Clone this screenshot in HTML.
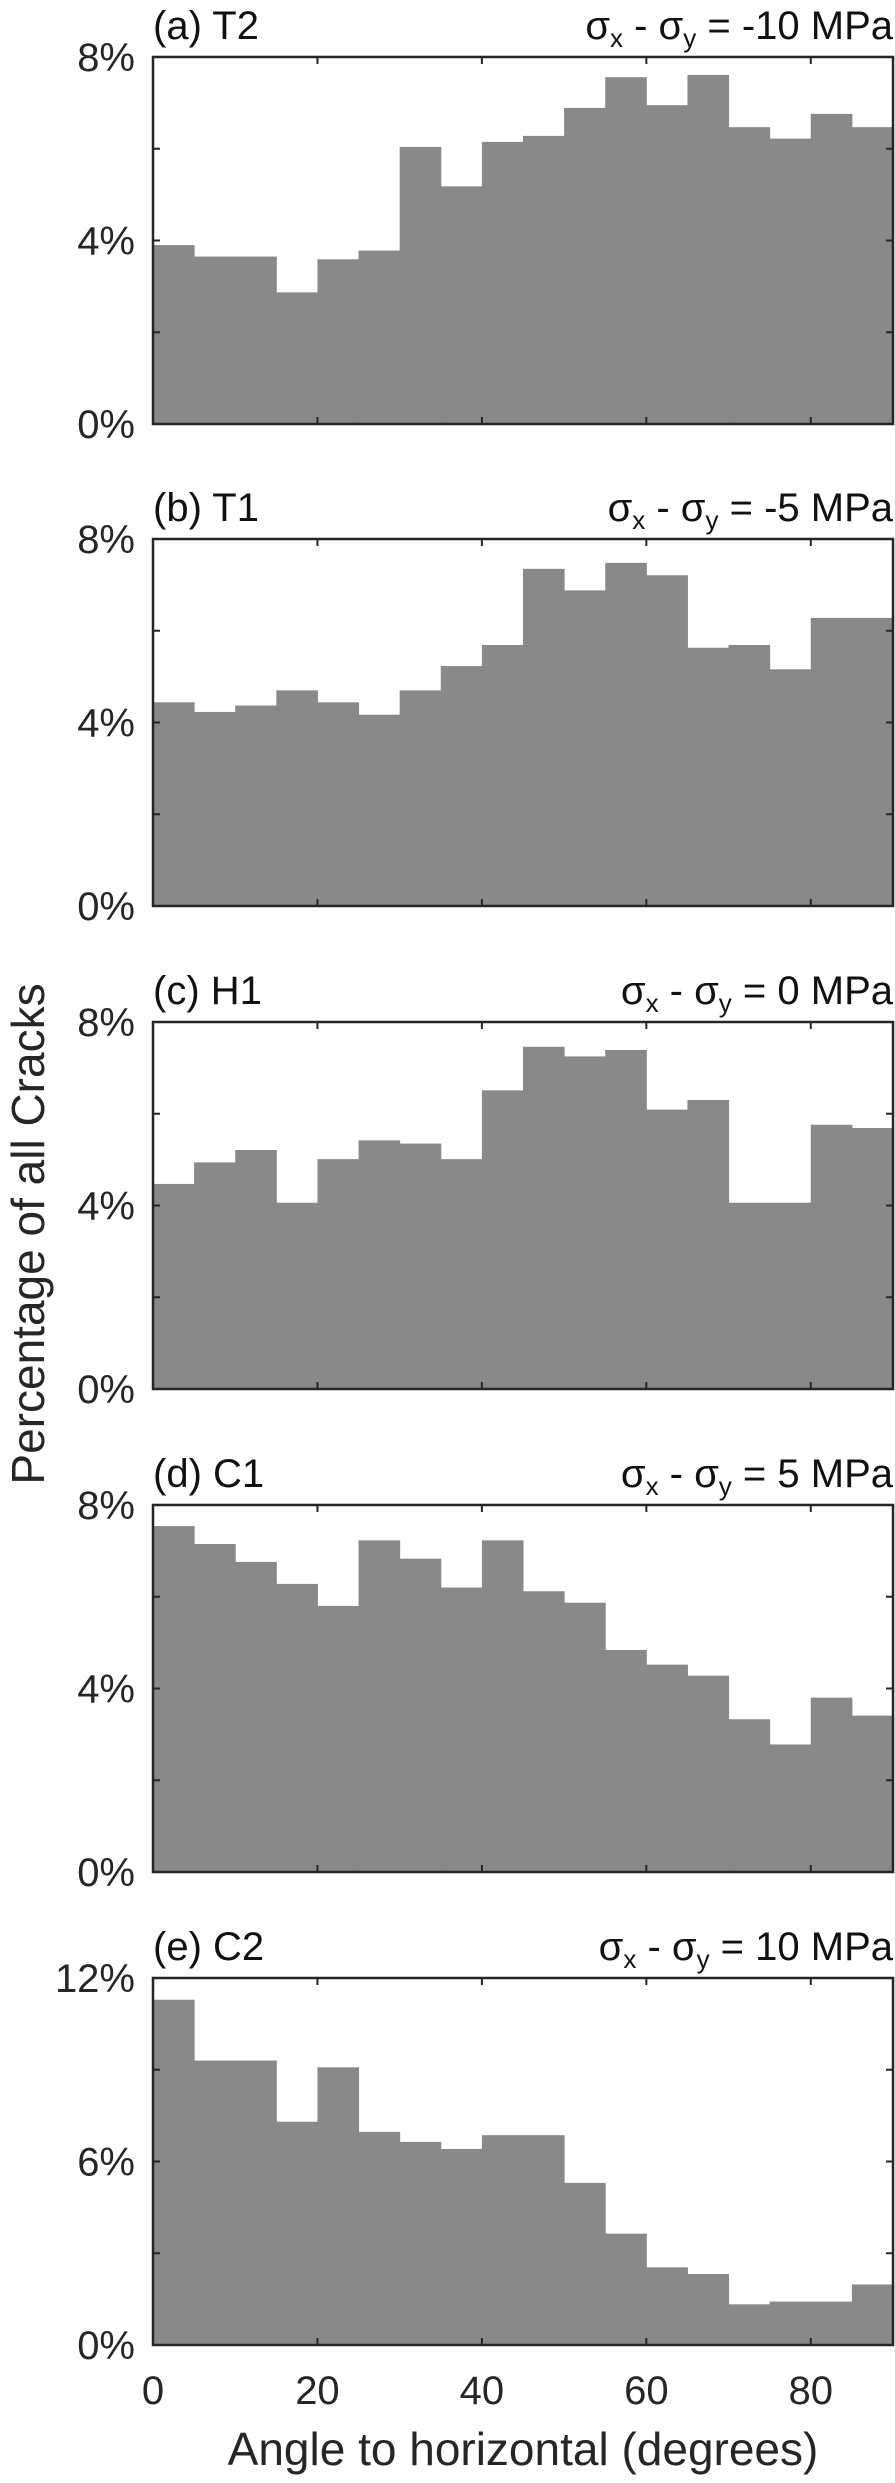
<!DOCTYPE html>
<html><head><meta charset="utf-8"><style>
html,body{margin:0;padding:0;background:#fff;}
svg{display:block;font-family:"Liberation Sans",Arial,sans-serif;}
</style></head><body>
<svg id="chart" width="895" height="2483" viewBox="0 0 895 2483" xmlns="http://www.w3.org/2000/svg">
<text x="0" y="0" transform="translate(44,1234) rotate(-90)" text-anchor="middle" font-size="46" fill="#262626">Percentage of all Cracks</text>
<text x="523" y="2465" text-anchor="middle" font-size="46" fill="#262626">Angle to horizontal (degrees)</text>
</svg>
<script>
const binEdges = [0,5,10,15,20,25,30,35,40,45,50,55,60,65,70,75,80,85,90];
const xTicks = [0,20,40,60,80];
const panelLabels = ["(a) T2","(b) T1","(c) H1","(d) C1","(e) C2"];
const stressValues = ["-10","-5","0","5","10"];
const yMaxes = [8,8,8,8,12];
const yTickSteps = [2,2,2,2,3];
const yLabelSteps = [4,4,4,4,6];
const seriesA = [3.90,3.65,3.65,2.87,3.59,3.78,6.04,5.18,6.15,6.28,6.89,7.56,6.95,7.61,6.47,6.22,6.76,6.47];
const seriesB = [4.44,4.23,4.37,4.70,4.44,4.17,4.70,5.23,5.69,7.35,6.88,7.48,7.21,5.63,5.69,5.16,6.28,6.28];
const seriesC = [4.47,4.94,5.21,4.06,5.01,5.42,5.35,5.01,6.51,7.46,7.25,7.39,6.09,6.30,4.06,4.06,5.76,5.69];
const seriesD = [7.54,7.15,6.76,6.28,5.80,7.23,6.83,6.20,7.23,6.12,5.87,4.84,4.52,4.28,3.33,2.78,3.80,3.41];
const seriesE = [11.29,9.30,9.30,7.30,9.08,6.97,6.64,6.41,6.86,6.86,5.30,3.64,2.54,2.32,1.33,1.42,1.42,1.98];
const allSeries = [seriesA,seriesB,seriesC,seriesD,seriesE];

const NS = "http://www.w3.org/2000/svg";
const svg = document.getElementById("chart");
const left = 153, right = 893, plotH = 367;
const tops = [57, 539, 1022, 1505, 1978];
function mk(tag, attrs){const e=document.createElementNS(NS,tag);for(const k in attrs)e.setAttribute(k,attrs[k]);return e;}
const xScale = v => left + (v/90)*(right-left);

allSeries.forEach((series, p) => {
  const top = tops[p], bottom = top + plotH, ymax = yMaxes[p];
  const yScale = v => bottom - (v/ymax)*plotH;
  const g = mk("g", {});
  
  
  svg.appendChild(g);
  series.forEach((v, i) => {
    const x0 = xScale(binEdges[i]), x1 = xScale(binEdges[i+1]), y = yScale(v);
    const r = mk("rect", {x:x0, y:y, width:x1-x0+0.5, height:bottom-y, fill:"#898989"});
    
    
    g.appendChild(r);
  });
  xTicks.forEach(t => {
    if (t === 0) return;
    const x = xScale(t);
    g.appendChild(mk("line",{x1:x,x2:x,y1:bottom,y2:bottom-7,stroke:"#262626","stroke-width":2}));
    g.appendChild(mk("line",{x1:x,x2:x,y1:top,y2:top+7,stroke:"#262626","stroke-width":2}));
  });
  for (let v = yTickSteps[p]; v < ymax; v += yTickSteps[p]) {
    const y = yScale(v);
    g.appendChild(mk("line",{x1:left,x2:left+7,y1:y,y2:y,stroke:"#262626","stroke-width":2}));
    g.appendChild(mk("line",{x1:right,x2:right-7,y1:y,y2:y,stroke:"#262626","stroke-width":2}));
  }
  for (let v = 0; v <= ymax; v += yLabelSteps[p]) {
    const t = mk("text",{x:135,y:yScale(v)+14,"text-anchor":"end","font-size":40,fill:"#262626"});
    
    
    t.textContent = v + "%";
    g.appendChild(t);
  }
  const frame = mk("rect",{x:left,y:top,width:right-left,height:plotH,fill:"none",stroke:"#262626","stroke-width":2.5});
  
  
  g.appendChild(frame);
  const title = mk("text",{x:left,y:top-18,"font-size":40,fill:"#111"});
  
  
  title.textContent = panelLabels[p];
  g.appendChild(title);
  const st = mk("text",{x:right,y:top-18,"text-anchor":"end","font-size":40,fill:"#111"});
  
  
  st.innerHTML = 'σ<tspan font-size="26" dy="8">x</tspan><tspan dy="-8"> - σ</tspan><tspan font-size="26" dy="8">y</tspan><tspan dy="-8"> = ' + stressValues[p] + ' MPa</tspan>';
  g.appendChild(st);
  if (p === 4) {
    xTicks.forEach(t => {
      const tl = mk("text",{x:xScale(t),y:bottom+59,"text-anchor":"middle","font-size":40,fill:"#262626"});
      
      
      tl.textContent = t;
      g.appendChild(tl);
    });
  }
});
</script>
</body></html>
